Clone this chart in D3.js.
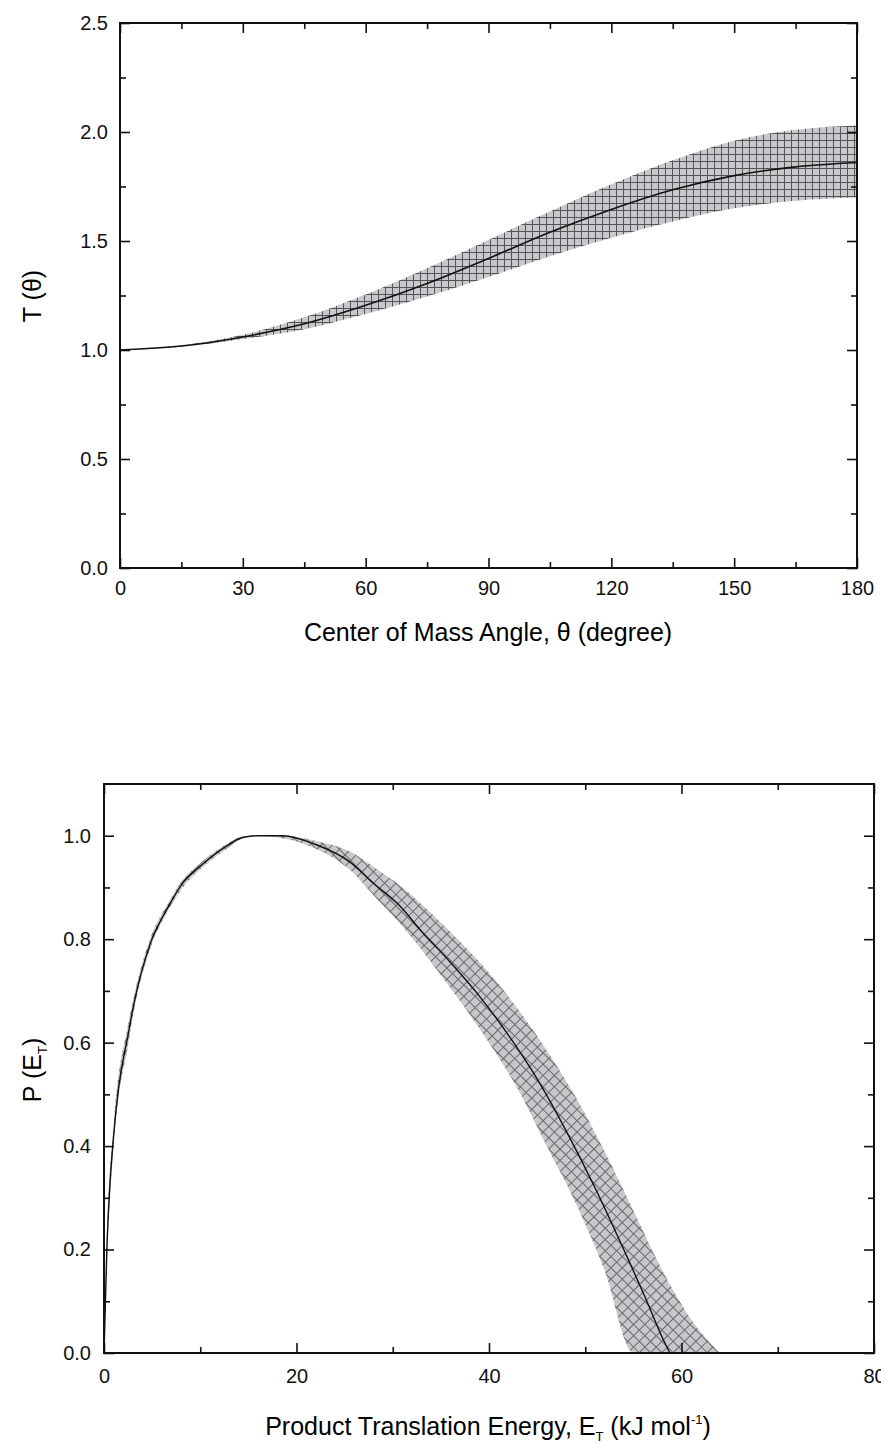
<!doctype html>
<html>
<head>
  <meta charset="utf-8">
  <title>T(theta) and P(ET)</title>
  <script src="https://cdnjs.cloudflare.com/ajax/libs/d3/7.8.5/d3.min.js"></script>
  <style>
    body { margin: 0; background: #fff; }
    svg { display: block; font-family: "Liberation Sans", Arial, sans-serif; }
    .domain { stroke: none; }
    .tick line { stroke: #111; stroke-width: 1.6; }
  </style>
</head>
<body>
<div id="chart"></div>
<script>
  // ---- top panel: T(theta) ----
  const thetaDeg = [0, 15, 30, 45, 60, 75, 90, 105, 120, 135, 150, 165, 180];
  const tCenter  = [1.00, 1.018, 1.06, 1.12, 1.205, 1.305, 1.42, 1.54, 1.645, 1.735, 1.80, 1.84, 1.86];
  const tUpper   = [1.00, 1.022, 1.07, 1.15, 1.255, 1.375, 1.505, 1.635, 1.76, 1.87, 1.96, 2.01, 2.03];
  const tLower   = [1.00, 1.015, 1.05, 1.095, 1.165, 1.245, 1.335, 1.43, 1.515, 1.59, 1.65, 1.685, 1.70];
  const thetaTicks = [0, 30, 60, 90, 120, 150, 180];
  const tTicks = [0.0, 0.5, 1.0, 1.5, 2.0, 2.5];

  // ---- bottom panel: P(ET) ----
  const energy  = [0, 0.15, 0.3, 0.6, 1.0, 1.5, 2.5, 3.05, 4.78, 6.51, 8.2, 10, 12.4, 14.5, 16, 18.6, 22, 25.5, 28, 30.7, 33, 36, 39, 42, 45, 48, 51, 54, 56.4, 58, 58.8];
  const pCenter = [0, 0.10, 0.20, 0.32, 0.42, 0.51, 0.615, 0.67, 0.79, 0.857, 0.909, 0.941, 0.976, 0.997, 1.0, 1.0, 0.983, 0.95, 0.908, 0.865, 0.815, 0.755, 0.69, 0.615, 0.53, 0.43, 0.32, 0.20, 0.10, 0.03, 0];
  const bandEnergy = [0, 0.3, 1.0, 2.5, 3.05, 4.78, 6.51, 8.2, 10, 12.4, 14.5, 16, 18.6, 22, 25.5, 28, 31, 34, 37, 40, 43, 46, 49, 52, 55, 58, 61, 64];
  const pHigh = [0, 0.22, 0.44, 0.635, 0.685, 0.80, 0.865, 0.915, 0.947, 0.98, 0.999, 1.0, 1.0, 0.99, 0.97, 0.94, 0.90, 0.85, 0.795, 0.735, 0.665, 0.585, 0.495, 0.39, 0.275, 0.16, 0.065, 0];
  const pLow  = [0, 0.18, 0.40, 0.595, 0.655, 0.78, 0.85, 0.90, 0.935, 0.97, 0.995, 1.0, 0.995, 0.975, 0.935, 0.885, 0.825, 0.755, 0.68, 0.60, 0.51, 0.40, 0.29, 0.16, 0, 0, 0, 0];
  const eTicks = [0, 20, 40, 60, 80];
  const pTicks = [0.0, 0.2, 0.4, 0.6, 0.8, 1.0];

  const svg = d3.select('#chart').append('svg')
    .attr('width', 881)
    .attr('height', 1445);

  const defs = svg.append('defs');

  // square grid hatch for the top band
  const grid = defs.append('pattern')
    .attr('id', 'gridHatch')
    .attr('patternUnits', 'userSpaceOnUse')
    .attr('width', 7).attr('height', 7);
  grid.append('rect').attr('width', 7).attr('height', 7).attr('fill', '#c8c8cc');
  grid.append('path').attr('d', 'M0,0.5H7M0.5,0V7')
    .attr('stroke', '#555').attr('stroke-width', 1).attr('fill', 'none');

  // diagonal cross hatch for the bottom band
  const diag = defs.append('pattern')
    .attr('id', 'diagHatch')
    .attr('patternUnits', 'userSpaceOnUse')
    .attr('width', 8).attr('height', 8)
    .attr('patternTransform', 'rotate(45)');
  diag.append('rect').attr('width', 8).attr('height', 8).attr('fill', '#c8c8cc');
  diag.append('path').attr('d', 'M0,0.5H8M0.5,0V8')
    .attr('stroke', '#6a6a6a').attr('stroke-width', 1).attr('fill', 'none');

  function drawFrame(g, x, y, xMajor, xMinor, yMajor, yMinor, xPad, yPad) {
    const [x0, x1] = x.range();
    const [y0, y1] = y.range();

    // bottom with labels
    g.append('g').attr('transform', `translate(0,${y0})`)
      .call(d3.axisBottom(x).tickValues(xMajor).tickSize(-10).tickPadding(xPad).tickFormat(d3.format('d')));
    g.append('g').attr('transform', `translate(0,${y0})`)
      .call(d3.axisBottom(x).tickValues(xMinor).tickSize(-6).tickFormat(''));
    // top mirror
    g.append('g').attr('transform', `translate(0,${y1})`)
      .call(d3.axisTop(x).tickValues(xMajor).tickSize(-10).tickFormat(''));
    g.append('g').attr('transform', `translate(0,${y1})`)
      .call(d3.axisTop(x).tickValues(xMinor).tickSize(-6).tickFormat(''));
    // left with labels
    g.append('g').attr('transform', `translate(${x0},0)`)
      .call(d3.axisLeft(y).tickValues(yMajor).tickSize(-10).tickPadding(yPad).tickFormat(d3.format('.1f')));
    g.append('g').attr('transform', `translate(${x0},0)`)
      .call(d3.axisLeft(y).tickValues(yMinor).tickSize(-6).tickFormat(''));
    // right mirror
    g.append('g').attr('transform', `translate(${x1},0)`)
      .call(d3.axisRight(y).tickValues(yMajor).tickSize(-10).tickFormat(''));
    g.append('g').attr('transform', `translate(${x1},0)`)
      .call(d3.axisRight(y).tickValues(yMinor).tickSize(-6).tickFormat(''));

    g.selectAll('.tick text')
      .attr('font-size', 20)
      .attr('font-family', '"Liberation Sans", Arial, sans-serif')
      .attr('fill', '#111');

    g.append('rect')
      .attr('x', x0).attr('y', y1)
      .attr('width', x1 - x0).attr('height', y0 - y1)
      .attr('fill', 'none').attr('stroke', '#111').attr('stroke-width', 2);
  }

  // ---------- top chart ----------
  const xT = d3.scaleLinear().domain([0, 180]).range([120, 857]);
  const yT = d3.scaleLinear().domain([0, 2.5]).range([568, 23]);
  const topChart = svg.append('g');

  const topRows = thetaDeg.map((t, i) => ({ t, c: tCenter[i], u: tUpper[i], l: tLower[i] }));

  topChart.append('path')
    .datum(topRows)
    .attr('fill', 'url(#gridHatch)')
    .attr('d', d3.area().curve(d3.curveMonotoneX)
      .x(d => xT(d.t)).y0(d => yT(d.l)).y1(d => yT(d.u)));

  topChart.append('path')
    .datum(topRows)
    .attr('fill', 'none').attr('stroke', '#111').attr('stroke-width', 1.6)
    .attr('d', d3.line().curve(d3.curveMonotoneX).x(d => xT(d.t)).y(d => yT(d.c)));

  drawFrame(topChart, xT, yT,
    thetaTicks, d3.range(15, 180, 30),
    tTicks, d3.range(0.25, 2.5, 0.5),
    13, 12);

  topChart.append('text')
    .attr('x', 488).attr('y', 641)
    .attr('text-anchor', 'middle')
    .style('font-size', '25px')
    .text('Center of Mass Angle, θ (degree)');

  topChart.append('text')
    .attr('transform', 'translate(41,296) rotate(-90)')
    .attr('text-anchor', 'middle')
    .style('font-size', '25px')
    .text('T (θ)');

  // ---------- bottom chart ----------
  const xB = d3.scaleLinear().domain([0, 80]).range([104, 874]);
  const yB = d3.scaleLinear().domain([0, 1.1]).range([1353, 784]);
  const bottomChart = svg.append('g');

  const bandRows = bandEnergy.map((e, i) => ({ e, h: pHigh[i], l: pLow[i] }));
  const lineRows = energy.map((e, i) => ({ e, p: pCenter[i] }));

  bottomChart.append('path')
    .datum(bandRows)
    .attr('fill', 'url(#diagHatch)')
    .attr('d', d3.area().curve(d3.curveMonotoneX)
      .x(d => xB(d.e)).y0(d => yB(d.l)).y1(d => yB(d.h)));

  bottomChart.append('path')
    .datum(lineRows)
    .attr('fill', 'none').attr('stroke', '#111').attr('stroke-width', 1.4)
    .attr('d', d3.line().curve(d3.curveMonotoneX).x(d => xB(d.e)).y(d => yB(d.p)));

  drawFrame(bottomChart, xB, yB,
    eTicks, d3.range(10, 80, 20),
    pTicks, d3.range(0.1, 1.1, 0.2),
    16, 13);

  const xTitle = bottomChart.append('text')
    .attr('x', 488).attr('y', 1435)
    .attr('text-anchor', 'middle')
    .style('font-size', '25px');
  xTitle.append('tspan').text('Product Translation Energy, E');
  xTitle.append('tspan').attr('dy', 6).style('font-size', '13px').text('T');
  xTitle.append('tspan').attr('dy', -6).text(' (kJ mol');
  xTitle.append('tspan').attr('dy', -11).style('font-size', '13px').text('-1');
  xTitle.append('tspan').attr('dy', 11).text(')');

  const yTitle = bottomChart.append('text')
    .attr('transform', 'translate(41,1070) rotate(-90)')
    .attr('text-anchor', 'middle')
    .style('font-size', '25px');
  yTitle.append('tspan').text('P (E');
  yTitle.append('tspan').attr('dy', 6).style('font-size', '13px').text('T');
  yTitle.append('tspan').attr('dy', -6).text(')');
</script>
</body>
</html>
